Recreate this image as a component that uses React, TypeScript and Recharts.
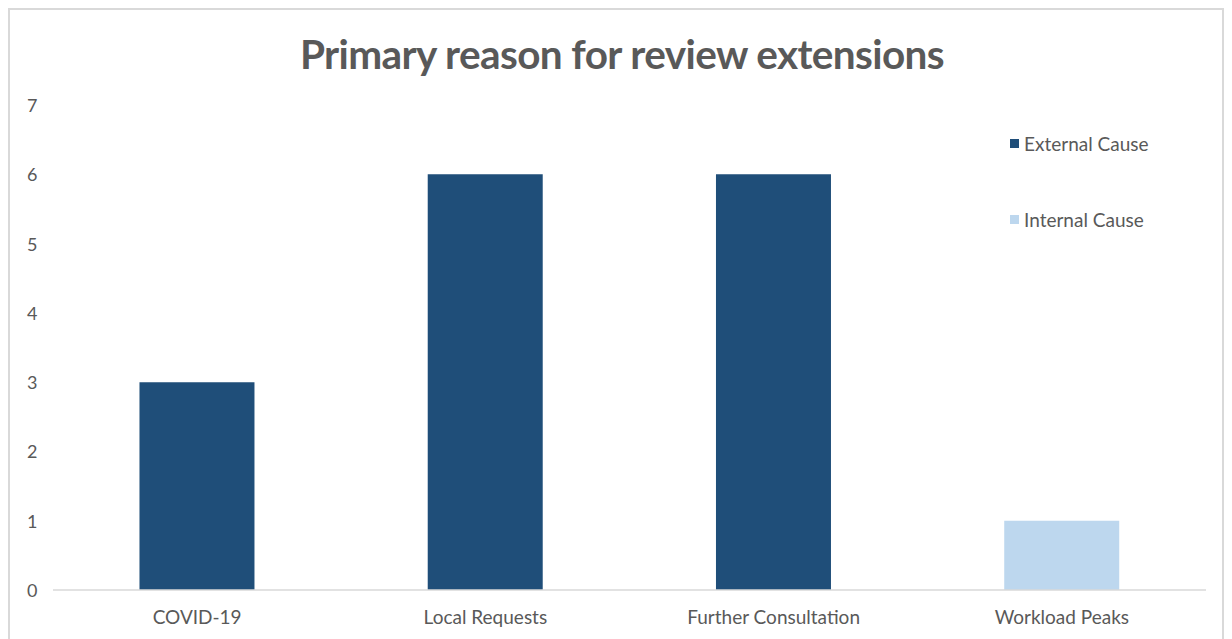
import React from "react";
import { BarChart, Bar, XAxis, YAxis } from "recharts";

const categories = ["COVID-19", "Local Requests", "Further Consultation", "Workload Peaks"];
const externalValues = [3, 6, 6, 0];
const internalValues = [0, 0, 0, 1];
const yTicks = [0, 1, 2, 3, 4, 5, 6, 7];

const data = categories.map((c, i) => ({
  name: c,
  external: externalValues[i],
  internal: internalValues[i],
}));

const TEXT = "#595959";
const FONT = "Lato, 'Noto Sans', sans-serif";

const YTick = (props: any) => {
  const { y, payload } = props;
  return (
    <text x={17} y={y} dy={7} fill={TEXT} fontSize={18} fontFamily={FONT} textAnchor="start">
      {payload.value}
    </text>
  );
};

export default function App() {
  return (
    <div
      style={{
        position: "relative",
        width: 1216,
        height: 660,
        border: "2px solid #d9d9d9",
        boxSizing: "border-box",
        background: "#fff",
      }}
    >
      <div
        style={{
          position: "absolute",
          left: 0,
          width: 1224,
          top: 19,
          textAlign: "center",
          fontFamily: FONT,
          fontWeight: 700,
          fontSize: 40.5,
          color: TEXT,
          letterSpacing: -0.6,
        }}
      >
        Primary reason for review extensions
      </div>
      <div
        style={{
          position: "absolute",
          left: 1000,
          top: 121,
          fontFamily: FONT,
          fontSize: 19,
          color: TEXT,
        }}
      >
        <div style={{ display: "flex", alignItems: "center", height: 24 }}>
          <span style={{ display: "inline-block", width: 9, height: 9, background: "#1F4E79", marginRight: 5 }} />
          External Cause
        </div>
        <div style={{ display: "flex", alignItems: "center", height: 24, marginTop: 52 }}>
          <span style={{ display: "inline-block", width: 9, height: 9, background: "#BDD7EE", marginRight: 5 }} />
          Internal Cause
        </div>
      </div>
      <BarChart
        width={1212}
        height={640}
        data={data}
        margin={{ top: 95, right: 16, bottom: 30, left: 0 }}
        barCategoryGap="30%"
      >
        <YAxis
          domain={[0, 7]}
          ticks={yTicks}
          axisLine={false}
          tickLine={false}
          width={43}
          tick={<YTick />}
        />
        <XAxis
          dataKey="name"
          axisLine={{ stroke: "#d9d9d9", strokeWidth: 1.5 }}
          tickLine={false}
          tick={{ fill: TEXT, fontSize: 19, fontFamily: FONT }}
          tickMargin={15}
          interval={0}
        />
        <Bar dataKey="external" stackId="a" fill="#1F4E79" isAnimationActive={false} />
        <Bar dataKey="internal" stackId="a" fill="#BDD7EE" isAnimationActive={false} />
      </BarChart>
    </div>
  );
}
